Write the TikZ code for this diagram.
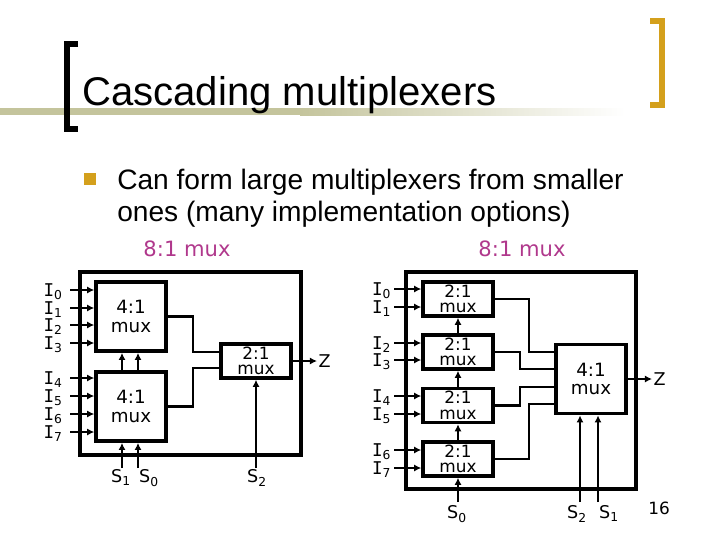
\documentclass[tikz,border=0pt]{standalone}
\usepackage{fontspec}
\setmainfont{Liberation Sans}
\newfontfamily\muxfont{DejaVu Sans}
\newfontfamily\pinfont{DejaVu Sans Mono}
\usepackage{xcolor}
\usetikzlibrary{arrows.meta, positioning, calc}
\definecolor{bargold}{HTML}{D4A01C}
\definecolor{barolive}{HTML}{C4C49C}
\definecolor{muxlabel}{HTML}{B0388C}
\newcommand{\pinI}[1]{{\pinfont I}\textsubscript{#1}}
\newcommand{\pinS}[1]{S\textsubscript{#1}}
\tikzset{
  frame/.style={draw, line width=2.5pt},
  mux/.style={rectangle, draw, line width=2.5pt, align=center, inner sep=0pt},
  mux41/.style={mux, minimum width=1.75cm, minimum height=1.73cm, font=\muxfont\fontsize{13}{13}\selectfont},
  mux21/.style={mux, minimum width=1.75cm, minimum height=0.85cm, font=\muxfont\fontsize{12}{11}\selectfont},
  sig/.style={line width=2pt},
  arr/.style={sig, -{Latex[length=5pt, width=5pt]}},
  pin/.style={font=\muxfont\fontsize{12.5}{12.5}\selectfont, inner sep=1pt},
  muxcap/.style={font=\muxfont\fontsize{15}{15}\selectfont, text=muxlabel},
  slide/.style={anchor=base west, inner sep=0pt},
}

\begin{document}
\begin{tikzpicture}[x=0.025cm, y=-0.025cm]
  \useasboundingbox (0,0) rectangle (720,540);
  % title bar
  \fill[barolive] (0,108) rectangle (300,115);
  \shade[left color=barolive, right color=white] (300,108) rectangle (625,115);
  \draw[line width=0.15cm] (78,44) -- (66.5,44) -- (66.5,129) -- (78,129);
  \draw[bargold, line width=0.15cm] (650,21) -- (662,21) -- (662,105) -- (650,105);
  \node[slide, font=\fontsize{28.5}{30}\selectfont] (title) at (82,105) {Cascading multiplexers};
  \fill[bargold] (84,173) rectangle (96,185);
  \node[slide, font=\fontsize{20}{22}\selectfont] (line1) at (117,189) {Can form large multiplexers from smaller};
  \node[slide, font=\fontsize{20}{22}\selectfont] (line2) at (117,221) {ones (many implementation options)};
  \node[muxcap] (capL) at (187,249) {8:1 mux};
  \node[muxcap] (capR) at (522,249) {8:1 mux};

  % two 4:1 into one 2:1
  \draw[frame] (80,272) rectangle (301,455);
  \node[mux41] (muxA) at (131,316.5) {4:1\\mux};
  \node[mux41] (muxB) at (131,406.5) {4:1\\mux};
  \node[mux21] (muxC) at (256,361) {2:1\\mux};
  \foreach \i/\y in {0/290,1/308,2/325,3/343}{
    \coordinate (pa\i) at (70,\y);
    \node[pin, anchor=base east] (ia\i) at ([shift={(-4pt,-4.5pt)}]pa\i) {\pinI{\i}};
    \draw[arr] (pa\i) -- (pa\i -| muxA.west);
  }
  \foreach \i/\y in {4/378,5/396,6/414,7/432}{
    \coordinate (pa\i) at (70,\y);
    \node[pin, anchor=base east] (ia\i) at ([shift={(-4pt,-4.5pt)}]pa\i) {\pinI{\i}};
    \draw[arr] (pa\i) -- (pa\i -| muxB.west);
  }
  \draw[arr] ($(muxB.north)+(-9,0)$) -- ($(muxA.south)+(-9,0)$);
  \draw[arr] ($(muxB.north)+(7,0)$) -- ($(muxA.south)+(7,0)$);
  \coordinate (sa1) at (122,468);
  \coordinate (sa0) at (138,468);
  \draw[arr] (sa1) -- (sa1 |- muxB.south);
  \draw[arr] (sa0) -- (sa0 |- muxB.south);
  \node[pin, anchor=north] (ls1) at (121,468) {\pinS{1}};
  \node[pin, anchor=north] (ls0) at (149,468) {\pinS{0}};
  \coordinate (ja) at (193,0);
  \draw[sig] (muxA.east) -- (muxA.east -| ja) |- ($(muxC.west)+(0,-9)$);
  \draw[sig] (muxB.east) -- (muxB.east -| ja) |- ($(muxC.west)+(0,7)$);
  \coordinate (za) at (317,361);
  \draw[arr] (muxC.east) -- (za);
  \node[pin, anchor=west] (lza) at (za) {Z};
  \coordinate (sa2) at (256,468);
  \draw[arr] (sa2) -- (muxC.south);
  \node[pin, anchor=north] (ls2) at (257,468) {\pinS{2}};

  % four 2:1 into one 4:1
  \draw[frame] (406,272) rectangle (636,489);
  \foreach \k/\y in {1/299,2/352,3/405.5,4/459}
    \node[mux21] (m\k) at (458,\y) {2:1\\mux};
  \node[mux41] (muxD) at (591,379) {4:1\\mux};
  \foreach \i/\k/\d in {0/1/-10,1/1/8,2/2/-9,3/2/8,4/3/-9.5,5/3/8.5,6/4/-9,7/4/9}{
    \coordinate (pb\i) at ($(m\k.west)+(-27,\d)$);
    \node[pin, anchor=base east] (ib\i) at ([shift={(-1pt,-4.5pt)}]pb\i) {\pinI{\i}};
    \draw[arr] (pb\i) -- (pb\i -| m\k.west);
  }
  \coordinate (sb0) at (458,502);
  \draw[arr] (sb0) -- (m4.south);
  \draw[arr] (m4.north) -- (m3.south);
  \draw[arr] (m3.north) -- (m2.south);
  \draw[arr] (m2.north) -- (m1.south);
  \node[pin, anchor=north] (lsb0) at (457,504) {\pinS{0}};
  \coordinate (jb) at (529,0);
  \coordinate (jc) at (520,0);
  \draw[sig] (m1.east) -- (m1.east -| jb) |- ($(muxD.west)+(0,-27)$);
  \draw[sig] (m2.east) -- (m2.east -| jc) |- ($(muxD.west)+(0,-10)$);
  \draw[sig] (m3.east) -- (m3.east -| jc) |- ($(muxD.west)+(0,8)$);
  \draw[sig] (m4.east) -- (m4.east -| jb) |- ($(muxD.west)+(0,25)$);
  \coordinate (zb) at (652,379);
  \draw[arr] (muxD.east) -- (zb);
  \node[pin, anchor=west] (lzb) at (zb) {Z};
  \coordinate (sb2) at (580,502);
  \coordinate (sb1) at (598,502);
  \draw[arr] (sb2) -- (sb2 |- muxD.south);
  \draw[arr] (sb1) -- (sb1 |- muxD.south);
  \node[pin, anchor=north] (lsb2) at (577,504) {\pinS{2}};
  \node[pin, anchor=north] (lsb1) at (609,504) {\pinS{1}};
  \node[font=\muxfont\fontsize{12}{12}\selectfont] (pageno) at (659,508) {16};
\end{tikzpicture}
\end{document}
